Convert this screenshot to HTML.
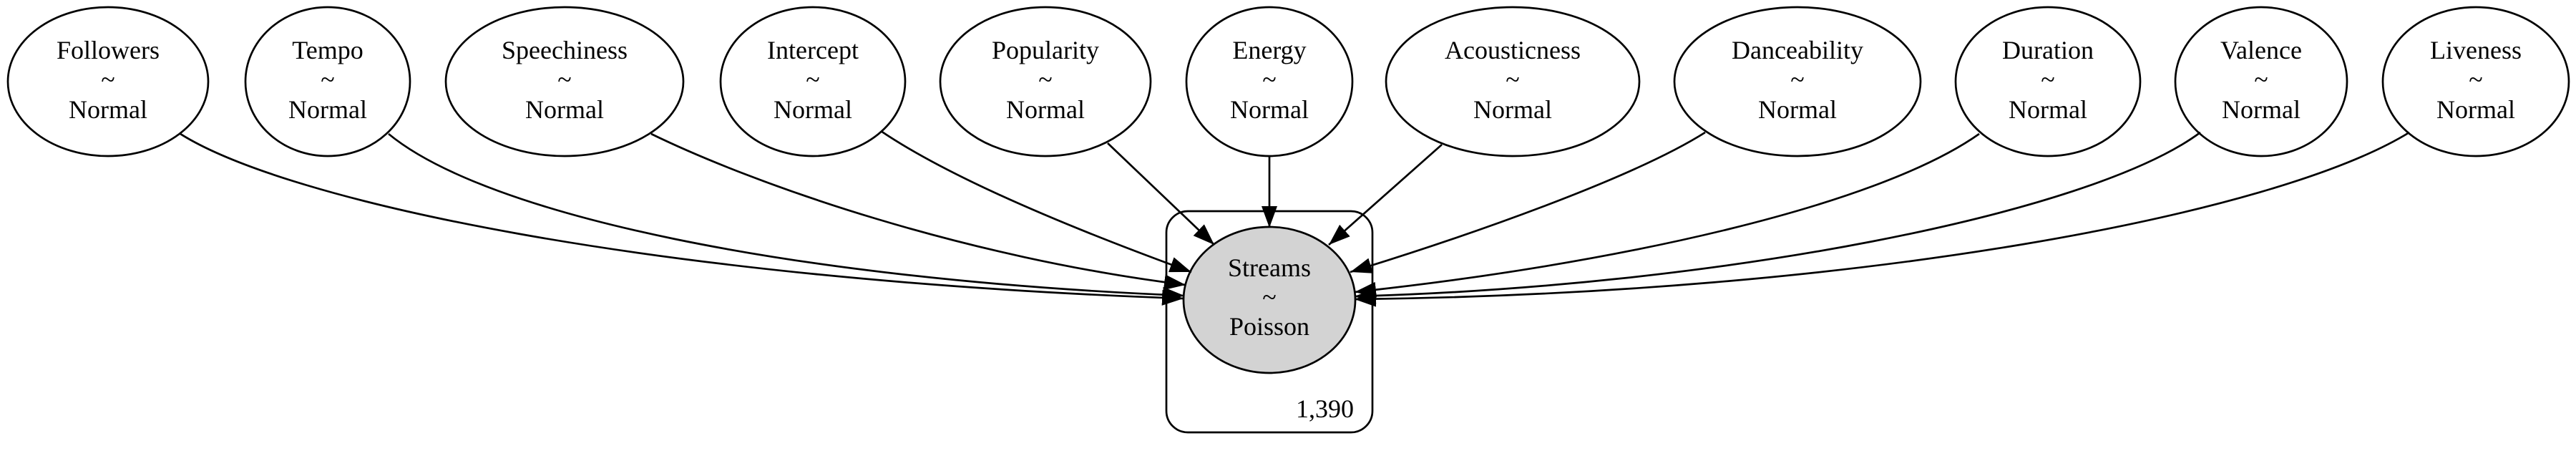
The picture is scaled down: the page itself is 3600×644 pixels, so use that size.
<!DOCTYPE html>
<html><head><meta charset="utf-8"><style>
html,body{margin:0;padding:0;background:#fff;}
svg{display:block;}
text{font-family:"Liberation Serif",serif;font-size:36px;fill:#000;text-anchor:middle;}
</style></head><body>
<svg width="3600" height="644" viewBox="0 0 3600 644" xmlns="http://www.w3.org/2000/svg">
<defs>
<marker id="a" markerUnits="userSpaceOnUse" markerWidth="32" markerHeight="24" refX="30" refY="11" orient="auto">
<path d="M0,0 L30,11 L0,22 z" fill="#000"/>
</marker>
</defs>
<g fill="none" stroke="#000" stroke-width="2.7">
<ellipse cx="151" cy="114" rx="140" ry="104"/>
<ellipse cx="458" cy="114" rx="115" ry="104"/>
<ellipse cx="789" cy="114" rx="166" ry="104"/>
<ellipse cx="1136" cy="114" rx="129" ry="104"/>
<ellipse cx="1461" cy="114" rx="147" ry="104"/>
<ellipse cx="1774" cy="114" rx="116" ry="104"/>
<ellipse cx="2114" cy="114" rx="177" ry="104"/>
<ellipse cx="2512" cy="114" rx="172" ry="104"/>
<ellipse cx="2862" cy="114" rx="129" ry="104"/>
<ellipse cx="3160" cy="114" rx="120" ry="104"/>
<ellipse cx="3460" cy="114" rx="130" ry="104"/>
<rect x="1630" y="295" width="288" height="309" rx="30" ry="30"/>
</g>
<ellipse cx="1774" cy="419" rx="120" ry="102" fill="#d3d3d3" stroke="#000" stroke-width="2.7"/>
<g fill="none" stroke="#000" stroke-width="2.7" marker-end="url(#a)">
<path d="M252,187 C400,280 900,390 1654,417"/>
<path d="M543,187 C680,300 1100,390 1655,413"/>
<path d="M910,187 C1060,260 1350,360 1657,398"/>
<path d="M1231,183 C1330,250 1500,320 1665,380"/>
<path d="M1548,200 L1697,342"/>
<path d="M1774,218 L1774,318"/>
<path d="M2015,202 L1857,342"/>
<path d="M2383,185 C2280,250 2050,330 1887,380"/>
<path d="M2766,187 C2620,290 2250,370 1893,408"/>
<path d="M3075,185 C2920,300 2400,400 1893,414"/>
<path d="M3367,185 C3180,300 2600,410 1893,418"/>
</g>
<g>
<text x="151" y="82">Followers</text><text x="151" y="123">~</text><text x="151" y="165">Normal</text>
<text x="458" y="82">Tempo</text><text x="458" y="123">~</text><text x="458" y="165">Normal</text>
<text x="789" y="82">Speechiness</text><text x="789" y="123">~</text><text x="789" y="165">Normal</text>
<text x="1136" y="82">Intercept</text><text x="1136" y="123">~</text><text x="1136" y="165">Normal</text>
<text x="1461" y="82">Popularity</text><text x="1461" y="123">~</text><text x="1461" y="165">Normal</text>
<text x="1774" y="82">Energy</text><text x="1774" y="123">~</text><text x="1774" y="165">Normal</text>
<text x="2114" y="82">Acousticness</text><text x="2114" y="123">~</text><text x="2114" y="165">Normal</text>
<text x="2512" y="82">Danceability</text><text x="2512" y="123">~</text><text x="2512" y="165">Normal</text>
<text x="2862" y="82">Duration</text><text x="2862" y="123">~</text><text x="2862" y="165">Normal</text>
<text x="3160" y="82">Valence</text><text x="3160" y="123">~</text><text x="3160" y="165">Normal</text>
<text x="3460" y="82">Liveness</text><text x="3460" y="123">~</text><text x="3460" y="165">Normal</text>
<text x="1774" y="386">Streams</text><text x="1774" y="427">~</text><text x="1774" y="468">Poisson</text>
<text x="1892" y="583" style="text-anchor:end">1,390</text>
</g>
</svg>
</body></html>
